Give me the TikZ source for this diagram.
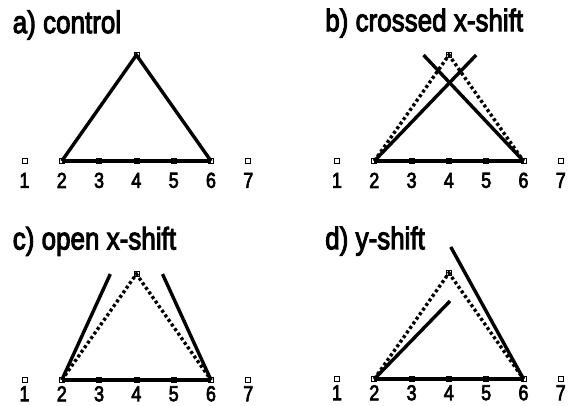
\documentclass[tikz,border=0pt]{standalone}
\usepackage{fontspec}
\setmainfont{Liberation Sans}[FakeBold=3.5]
\usepackage{graphicx}
\usetikzlibrary{positioning, calc}

\tikzset{
  pt/.style={draw, line width=0.8pt, inner sep=0pt, minimum size=5pt},
  leg/.style={line width=3.4pt},
  guide/.style={line width=3.4pt, dash pattern=on 3pt off 2.6pt},
  tick/.style={font=\fontsize{18}{18}\selectfont, inner sep=0pt},
  caption/.style={anchor=base west, font=\fontsize{26}{26}\selectfont, inner sep=0pt},
  panel/.style={x=37.3pt, y=37.3pt},
}
\newcommand{\tall}[1]{\scalebox{1}[1.2]{#1}}
% the seven positions, their numbers and the apex
\newcommand{\drawpoints}[1]{%
  \foreach \k in {1,...,7} {
    \node[pt] (p\k) at (\k-1,0) {};
    \node[tick] (n\k) at (\k-1,-#1) {\tall{\k}};
  }
  \node[pt] (top) at (3,2.84) {};
}

\begin{document}
\begin{tikzpicture}
  \useasboundingbox (0,0) rectangle (569pt,406pt);

  % a) control
  \begin{scope}[shift={(24.5pt,245pt)}, panel]
    \drawpoints{0.52}
    \node[caption] (title) at (-0.32,3.43) {\tall{a) control}};
    \draw[leg] (p2.center) -- (top.center) -- (p6.center);
    \draw[leg] (p2.center) -- (p6.center);
  \end{scope}

  % b) crossed x-shift
  \begin{scope}[shift={(337pt,245pt)}, panel]
    \drawpoints{0.52}
    \node[caption] (title) at (-0.32,3.48) {\tall{b) crossed x-shift}};
    \coordinate (topR) at ($(top)+(0.73,0)$);
    \coordinate (topL) at ($(top)+(-0.68,0)$);
    \draw[guide] (p2.center) -- (top.center) -- (p6.center);
    \draw[leg] (p2.center) -- (p6.center);
    \draw[leg] (p2.center) -- (topR);
    \draw[leg] (p6.center) -- (topL);
  \end{scope}

  % c) open x-shift
  \begin{scope}[shift={(24.5pt,26pt)}, panel]
    \drawpoints{0.37}
    \node[caption] (title) at (-0.32,3.50) {\tall{c) open x-shift}};
    \coordinate (topL) at ($(top)+(-0.7,0)$);
    \coordinate (topR) at ($(top)+(0.7,0)$);
    \draw[guide] (p2.center) -- (top.center) -- (p6.center);
    \draw[leg] (p2.center) -- (p6.center);
    \draw[leg] (p2.center) -- (topL);
    \draw[leg] (p6.center) -- (topR);
  \end{scope}

  % d) y-shift
  \begin{scope}[shift={(337pt,27pt)}, panel]
    \drawpoints{0.37}
    \node[caption] (title) at (-0.32,3.48) {\tall{d) y-shift}};
    \coordinate (topD) at ($(top)+(0.03,-0.75)$);
    \coordinate (topU) at ($(top)+(0.05,0.7)$);
    \draw[guide] (p2.center) -- (top.center) -- (p6.center);
    \draw[leg] (p2.center) -- (p6.center);
    \draw[leg] (p2.center) -- (topD);
    \draw[leg] (p6.center) -- (topU);
  \end{scope}
\end{tikzpicture}
\end{document}
